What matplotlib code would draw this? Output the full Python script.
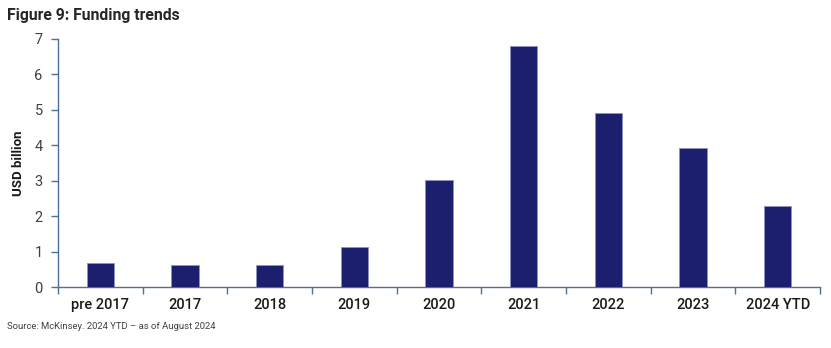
import matplotlib
matplotlib.use("Agg")
import matplotlib.pyplot as plt
import numpy as np

# Funding trends data (USD billion)
categories = ["pre 2017", "2017", "2018", "2019", "2020", "2021", "2022", "2023", "2024 YTD"]
funding = [0.68, 0.62, 0.62, 1.13, 3.02, 6.8, 4.9, 3.93, 2.3]

plt.rcParams['font.family'] = ['Roboto', 'DejaVu Sans']

bar_color = '#1b1f6e'
axis_color = '#4d6f96'

fig = plt.figure(figsize=(8.31, 3.48), dpi=100)
ax = fig.add_axes([0.0698, 0.175, 0.917, 0.713])

x = np.arange(len(categories))
ax.bar(x, funding, width=0.32, color=bar_color, edgecolor='#8e93c0', linewidth=0.6, zorder=3)

ax.set_xlim(-0.5, len(categories) - 0.5)
ax.set_ylim(0, 7)
ax.set_yticks(range(0, 8))
ax.tick_params(axis='y', colors=axis_color, labelcolor='#404040', labelsize=10.5,
               length=5, width=1, direction='out', pad=6)

# category labels at centre, tick marks between categories
ax.set_xticks(x)
ax.set_xticklabels(categories, fontsize=10.5, color='#1a1a1a', fontweight='medium')
ax.tick_params(axis='x', length=0, pad=8)
ax.set_xticks(np.arange(-0.5, len(categories)), minor=True)
ax.tick_params(axis='x', which='minor', length=5, width=1, colors=axis_color, direction='out')

for side in ['top', 'right']:
    ax.spines[side].set_visible(False)
for side in ['left', 'bottom']:
    ax.spines[side].set_color(axis_color)
    ax.spines[side].set_linewidth(1)

ax.set_ylabel("USD billion", fontsize=9.5, fontweight='bold', color='#1a1a1a', labelpad=7)

fig.text(0.009, 0.955, "Figure 9: Funding trends", fontsize=11.3, fontweight='bold',
         color='#262626', va='center', ha='left')
fig.text(0.009, 0.063, "Source: McKinsey. 2024 YTD \u2013 as of August 2024", fontsize=6.8,
         color='#404040', va='center', ha='left')

fig.savefig("out.png", dpi=100)
